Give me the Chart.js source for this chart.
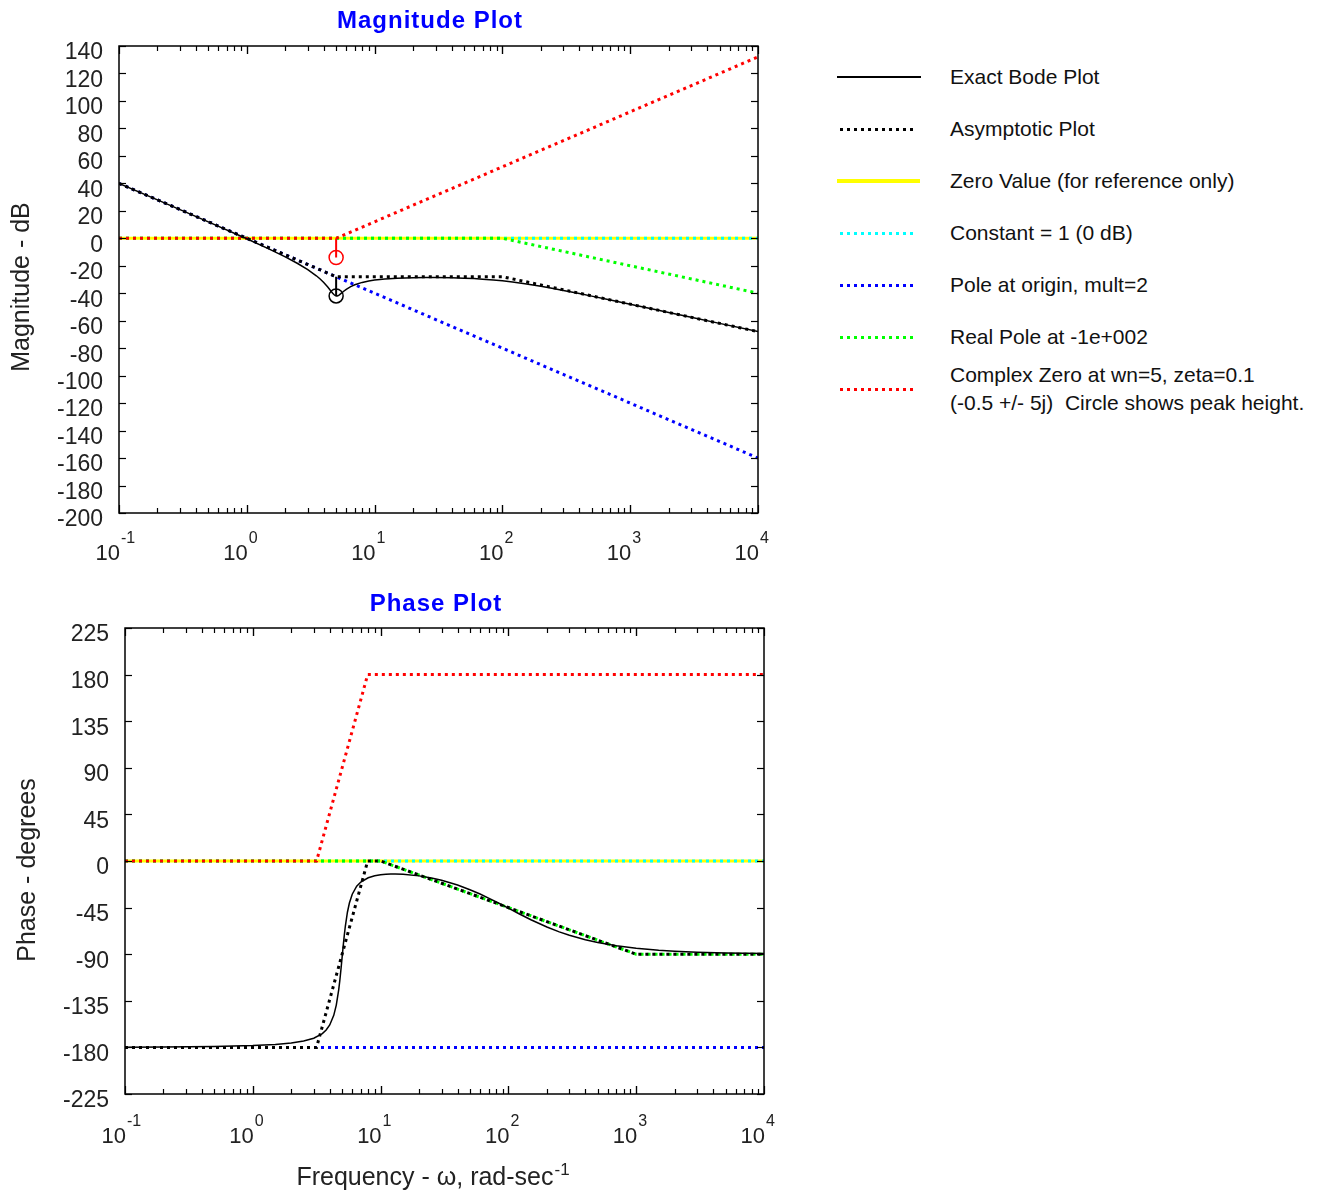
<!DOCTYPE html>
<html><head><meta charset="utf-8">
<script src="https://cdn.jsdelivr.net/npm/chart.js@4.4.0/dist/chart.umd.min.js"></script>
<style>
html,body{margin:0;padding:0;background:#fff;}
body{width:1335px;height:1195px;position:relative;overflow:hidden;font-family:"Liberation Sans",Arial,sans-serif;}
#c1{position:absolute;left:0;top:0;}
#c2{position:absolute;left:0;top:570px;}
.sw{position:absolute;}
.lt{position:absolute;left:950px;font-size:21px;line-height:24px;color:#111;white-space:pre;}
</style>
</head><body>
<canvas id="c1" width="800" height="563"></canvas>
<canvas id="c2" width="800" height="625"></canvas>
<div id="legend"></div>
<script>
// ---------- DATA ----------
const freqRange = [0.1, 10000];
const decades = [-1, 0, 1, 2, 3, 4];
const magTicks = {min: -200, max: 140, step: 20};
const phaseTicks = {min: -225, max: 225, step: 45};

// exact Bode curve samples (rad/s, dB, degrees)
const exactFreq = [0.1,0.2,0.5,1,1.5,2,2.5,3,3.5,3.75,4,4.3,4.5,4.7,4.8,4.9,5,5.1,5.2,5.3,5.5,5.7,6,6.5,7,8,9,10,11,12,13,15,20,25,30,40,50,60,70,85,100,120,150,200,250,300,400,500,700,1000,1500,2000,3000,5000,10000];
const exactMag = [40.00,27.95,11.96,-0.35,-7.85,-13.52,-18.34,-22.81,-27.30,-29.67,-32.18,-35.46,-37.78,-40.00,-40.92,-41.60,-41.95,-41.95,-41.67,-41.19,-39.97,-38.73,-37.14,-35.18,-33.83,-32.11,-31.09,-30.42,-29.97,-29.63,-29.39,-29.05,-28.68,-28.57,-28.57,-28.74,-29.01,-29.35,-29.73,-30.35,-30.99,-31.85,-33.09,-34.95,-36.57,-37.96,-40.26,-42.11,-44.95,-48.00,-51.50,-53.99,-57.51,-61.94,-67.96];
const exactPhase = [-179.83,-179.66,-179.13,-178.19,-177.09,-175.71,-173.84,-171.10,-166.65,-163.23,-158.33,-149.01,-139.13,-124.45,-114.96,-104.23,-92.86,-81.72,-71.56,-62.79,-49.48,-40.53,-32.04,-24.37,-20.26,-16.16,-14.27,-13.30,-12.82,-12.60,-12.57,-12.82,-14.36,-16.43,-18.66,-23.25,-27.73,-31.92,-35.81,-41.04,-45.57,-50.67,-56.69,-63.72,-68.43,-71.76,-76.10,-78.80,-81.95,-84.35,-86.23,-87.17,-88.11,-88.86,-89.43];

// asymptotic magnitude
const asymMagFreq = [0.1, 5, 100, 10000];
const asymMag = [40, -27.96, -27.96, -67.96];
const constMag = [0, 0];
const zeroMag = [0, 0];
const poleOriginMag = [40, -160];
const realPoleMagFreq = [0.1, 100, 10000];
const realPoleMag = [0, 0, -40];
const cZeroMagFreq = [0.1, 5, 10000];
const cZeroMag = [0, 0, 132.04];
const peakFreq = 5;
const cZeroPeak = [0, -13.98];
const exactPeak = [-27.96, -41.95];

// asymptotic phase
const asymPhaseFreq = [0.1, 3.155, 7.924, 10, 1000, 10000];
const asymPhase = [-180, -180, 0, 0, -90, -90];
const constPhase = [0, 0];
const zeroPhase = [0, 0];
const poleOriginPhase = [-180, -180];
const realPolePhaseFreq = [0.1, 10, 1000, 10000];
const realPolePhase = [0, 0, -90, -90];
const cZeroPhaseFreq = [0.1, 3.155, 7.924, 10000];
const cZeroPhase = [0, 0, 180, 180];

const legendItems = [
  {label: 'Exact Bode Plot', color: '#000000', kind: 'solid'},
  {label: 'Asymptotic Plot', color: '#000000', kind: 'dot'},
  {label: 'Zero Value (for reference only)', color: '#ffff00', kind: 'thick'},
  {label: 'Constant = 1 (0 dB)', color: '#00ffff', kind: 'dot'},
  {label: 'Pole at origin, mult=2', color: '#0000ff', kind: 'dot'},
  {label: 'Real Pole at -1e+002', color: '#00ff00', kind: 'dot'},
  {label: 'Complex Zero at wn=5, zeta=0.1\n(-0.5 +/- 5j)  Circle shows peak height.', color: '#ff0000', kind: 'dot'}
];

// ---------- HELPERS ----------
const pts = (xs, ys) => xs.map((x, i) => ({x: x, y: ys[i]}));
const FONT = '"Liberation Sans", Arial, sans-serif';
const DASH = [3, 4];

function dotted(data, color) {
  return {data, borderColor: color, borderWidth: 3, borderDash: DASH, borderCapStyle: 'butt', pointRadius: 0, fill: false, tension: 0};
}

const axesPlugin = {
  id: 'axesDeco',
  afterDraw(chart, args, o) {
    const ctx = chart.ctx;
    const {left, top, right, bottom} = chart.chartArea;
    const xs = chart.scales.x, ys = chart.scales.y;
    ctx.save();
    ctx.strokeStyle = '#000';
    ctx.lineWidth = 1.5;
    ctx.strokeRect(left, top, right - left, bottom - top);
    ctx.lineWidth = 1.2;
    const ln = (a, b, c, d) => { ctx.beginPath(); ctx.moveTo(a, b); ctx.lineTo(c, d); ctx.stroke(); };
    ys.ticks.forEach(t => {
      const py = Math.round(ys.getPixelForValue(t.value)) + 0.5;
      ln(left, py, left + 7, py);
      ln(right, py, right - 7, py);
    });
    for (let k = -1; k < 4; k++) {
      for (let m = 1; m <= 10; m++) {
        const v = m * Math.pow(10, k);
        const px = Math.round(xs.getPixelForValue(v)) + 0.5;
        const L = (m === 1 || m === 10) ? 8 : 5;
        ln(px, bottom, px, bottom - L);
        ln(px, top, px, top + L);
      }
    }
    // decade labels with superscripts
    ctx.fillStyle = '#222';
    ctx.textBaseline = 'alphabetic';
    decades.forEach(k => {
      const px = xs.getPixelForValue(Math.pow(10, k));
      ctx.font = '22px ' + FONT;
      ctx.textAlign = 'right';
      ctx.fillText('10', px + 1, bottom + o.labelBase);
      ctx.font = '16px ' + FONT;
      ctx.textAlign = 'left';
      ctx.fillText(String(k), px + 2, bottom + o.labelBase - 17);
    });
    // title
    ctx.fillStyle = '#0000ff';
    ctx.font = 'bold 24px ' + FONT;
    try { ctx.letterSpacing = '1px'; } catch (e) {}
    ctx.textAlign = 'center';
    ctx.textBaseline = 'middle';
    ctx.fillText(o.title, o.titleX, o.titleY);
    try { ctx.letterSpacing = '0px'; } catch (e) {}
    // y label
    ctx.fillStyle = '#222';
    ctx.font = '25px ' + FONT;
    ctx.save();
    ctx.translate(o.yLabelX, o.yLabelY);
    ctx.rotate(-Math.PI / 2);
    ctx.fillText(o.yLabel, 0, 0);
    ctx.restore();
    // x label
    if (o.xLabel) {
      ctx.font = '25px ' + FONT;
      ctx.textAlign = 'left';
      ctx.textBaseline = 'alphabetic';
      const w = ctx.measureText(o.xLabel).width;
      ctx.font = '17px ' + FONT;
      const ws = ctx.measureText(o.xSup).width;
      const x0 = o.xLabelX - (w + ws + 1) / 2;
      ctx.font = '25px ' + FONT;
      ctx.fillText(o.xLabel, x0, o.xLabelY);
      ctx.font = '17px ' + FONT;
      ctx.fillText(o.xSup, x0 + w + 1, o.xLabelY - 10);
    }
    ctx.restore();
  }
};

function makeChart(id, datasets, yt, geo, deco) {
  return new Chart(document.getElementById(id), {
    type: 'line',
    data: {datasets},
    plugins: [axesPlugin],
    options: {
      responsive: false, animation: false, devicePixelRatio: 1,
      layout: {padding: {left: 0, top: geo.top, right: geo.right, bottom: 0}},
      plugins: {legend: {display: false}, tooltip: {enabled: false}, title: {display: false}, axesDeco: deco},
      scales: {
        x: {type: 'logarithmic', min: freqRange[0], max: freqRange[1],
            ticks: {display: false}, grid: {display: false, drawTicks: false}, border: {display: false},
            afterFit: s => { s.height = geo.xh; }},
        y: {type: 'linear', min: yt.min, max: yt.max,
            ticks: {stepSize: yt.step, autoSkip: false, padding: 16, labelOffset: 7, color: '#222', font: {family: FONT, size: 23}},
            grid: {display: false, drawTicks: false}, border: {display: false},
            afterFit: s => { s.width = geo.yw; }}
      }
    }
  });
}

function circleSet(x, y, color) {
  return {data: [{x: x, y: y}], showLine: false, pointStyle: 'circle', pointRadius: 7, pointBorderWidth: 1.5,
          pointBorderColor: color, pointBackgroundColor: 'rgba(0,0,0,0)', borderColor: color};
}
function stemSet(x, ys, color) {
  return {data: [{x: x, y: ys[0]}, {x: x, y: ys[1]}], borderColor: color, borderWidth: 2, pointRadius: 0};
}

// ---------- MAGNITUDE ----------
const magSets = [
  {data: pts(exactFreq, exactMag), borderColor: '#000', borderWidth: 1.5, pointRadius: 0, tension: 0},
  stemSet(peakFreq, exactPeak, '#000'),
  circleSet(peakFreq, exactPeak[1], '#000'),
  stemSet(peakFreq, cZeroPeak, '#ff0000'),
  circleSet(peakFreq, cZeroPeak[1], '#ff0000'),
  dotted(pts(asymMagFreq, asymMag), '#000000'),
  dotted(pts(cZeroMagFreq, cZeroMag), '#ff0000'),
  dotted(pts(realPoleMagFreq, realPoleMag), '#00ff00'),
  dotted(pts(freqRange, poleOriginMag), '#0000ff'),
  dotted(pts(freqRange, constMag), '#00ffff'),
  {data: pts(freqRange, zeroMag), borderColor: '#ffff00', borderWidth: 3, pointRadius: 0}
];
makeChart('c1', magSets, magTicks, {top: 46, right: 42, xh: 50, yw: 119},
  {title: 'Magnitude Plot', titleX: 430, titleY: 21, yLabel: 'Magnitude - dB', yLabelX: 22, yLabelY: 287, labelBase: 47});

// ---------- PHASE ----------
const phSets = [
  {data: pts(exactFreq, exactPhase), borderColor: '#000', borderWidth: 1.5, pointRadius: 0, tension: 0},
  dotted(pts(asymPhaseFreq, asymPhase), '#000000'),
  dotted(pts(cZeroPhaseFreq, cZeroPhase), '#ff0000'),
  dotted(pts(realPolePhaseFreq, realPolePhase), '#00ff00'),
  dotted(pts(freqRange, poleOriginPhase), '#0000ff'),
  dotted(pts(freqRange, constPhase), '#00ffff'),
  {data: pts(freqRange, zeroPhase), borderColor: '#ffff00', borderWidth: 3, pointRadius: 0}
];
makeChart('c2', phSets, phaseTicks, {top: 58, right: 36, xh: 101, yw: 125},
  {title: 'Phase Plot', titleX: 436, titleY: 34, yLabel: 'Phase - degrees', yLabelX: 28, yLabelY: 300, labelBase: 49,
   xLabel: 'Frequency - \u03c9, rad-sec', xSup: '-1', xLabelX: 433, xLabelY: 615});

// ---------- LEGEND ----------
const leg = document.getElementById('legend');
const rowY = [77, 129, 181, 233, 285, 337, 389];
legendItems.forEach((it, i) => {
  const y = rowY[i];
  const sw = document.createElement('div');
  sw.className = 'sw';
  if (it.kind === 'solid') {
    Object.assign(sw.style, {left: '837px', width: '84px', top: (y - 1) + 'px', height: '2px', background: it.color});
  } else if (it.kind === 'thick') {
    Object.assign(sw.style, {left: '837px', width: '83px', top: (y - 2) + 'px', height: '4px', background: it.color});
  } else {
    Object.assign(sw.style, {left: '840px', width: '77px', top: (y - 1.5) + 'px', height: '3px',
      background: 'repeating-linear-gradient(to right,' + it.color + ' 0 3px, transparent 3px 7px)'});
  }
  leg.appendChild(sw);
  const lines = it.label.split('\n');
  const t = document.createElement('div');
  t.className = 'lt';
  t.textContent = it.label;
  if (lines.length > 1) { t.style.lineHeight = '28px'; t.style.top = (y - 28) + 'px'; }
  else { t.style.top = (y - 12) + 'px'; }
  leg.appendChild(t);
});
</script>
</body></html>
